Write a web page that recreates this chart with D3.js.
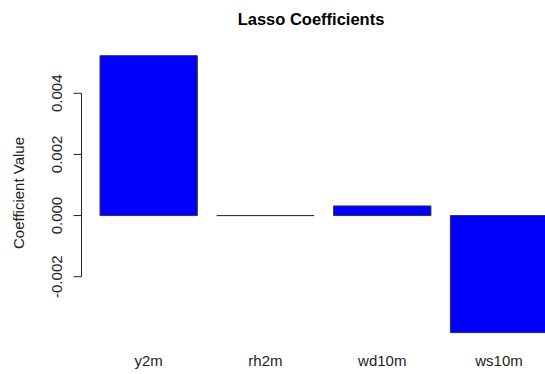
<!DOCTYPE html>
<html>
<head>
<meta charset="utf-8">
<script src="https://cdn.jsdelivr.net/npm/d3@7"></script>
<style>
  body { margin: 0; background: #fff; }
  svg { display: block; font-family: "Liberation Sans", Arial, sans-serif; }
</style>
</head>
<body>
<svg id="chart" width="545" height="374"></svg>
<script>
// lasso coefficients per predictor
const categories = ['y2m', 'rh2m', 'wd10m', 'ws10m'];
const coefValues = [0.00523, 0.0, 0.000315, -0.00383];
const yTicks = [-0.002, 0, 0.002, 0.004];

const svg = d3.select('#chart');

const x = d3.scaleBand()
  .domain(categories)
  .range([100, 547.7])
  .paddingInner(0.1667)
  .paddingOuter(0);

const y = d3.scaleLinear()
  .domain([-0.002, 0.004])
  .range([276.7, 93.3]);

// bars as paths so a zero-height bar still shows its outline
svg.append('g')
  .selectAll('path')
  .data(categories)
  .enter().append('path')
    .attr('d', (c, i) => {
      const x0 = x(c), w = x.bandwidth();
      const y0 = y(Math.max(0, coefValues[i])), y1 = y(Math.min(0, coefValues[i]));
      return `M${x0},${y0}H${x0 + w}V${y1}H${x0}Z`;
    })
    .attr('fill', '#0000ff')
    .attr('stroke', '#333')
    .attr('stroke-width', 1);

// y axis, R style: line spans first to last tick, labels rotated
const axisX = 81.5;
const yAxis = svg.append('g').attr('transform', `translate(${axisX},0)`);
yAxis.append('line')
  .attr('y1', y(yTicks[0])).attr('y2', y(yTicks[yTicks.length - 1]))
  .attr('stroke', '#222');
yAxis.selectAll('.tick')
  .data(yTicks)
  .enter().append('line')
    .attr('x1', 0).attr('x2', -8)
    .attr('y1', d => y(d)).attr('y2', d => y(d))
    .attr('stroke', '#222');
yAxis.selectAll('text')
  .data(yTicks)
  .enter().append('text')
    .attr('transform', d => `translate(-20,${y(d)}) rotate(-90)`)
    .attr('text-anchor', 'middle')
    .attr('font-size', 15)
    .attr('fill', '#222')
    .text(d => d3.format('.3f')(d).replace('−', '-'));

// category labels
svg.append('g')
  .selectAll('text')
  .data(categories)
  .enter().append('text')
    .attr('x', c => x(c) + x.bandwidth() / 2)
    .attr('y', 366)
    .attr('text-anchor', 'middle')
    .attr('font-size', 15)
    .attr('fill', '#222')
    .text(c => c);

svg.append('text')
  .attr('transform', 'translate(24,193) rotate(-90)')
  .attr('text-anchor', 'middle')
  .attr('font-size', 15)
  .attr('fill', '#222')
  .text('Coefficient Value');

svg.append('text')
  .attr('x', 311)
  .attr('y', 25)
  .attr('text-anchor', 'middle')
  .attr('font-size', 16.5)
  .attr('font-weight', 'bold')
  .attr('fill', '#000')
  .text('Lasso Coefficients');
</script>
</body>
</html>
